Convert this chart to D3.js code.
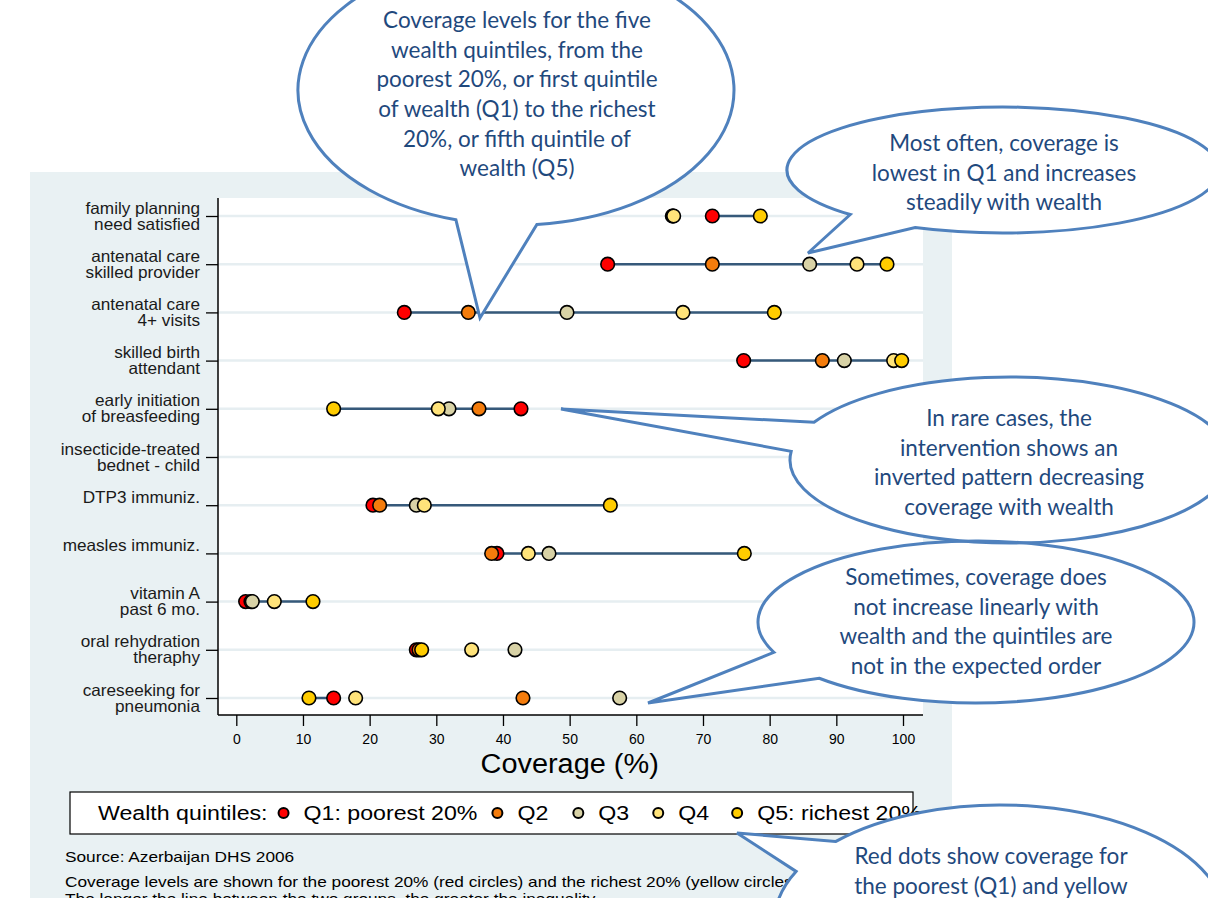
<!DOCTYPE html>
<html>
<head>
<meta charset="utf-8">
<script src="https://cdn.jsdelivr.net/npm/d3@7"></script>
<style>
  body { margin: 0; background: #fff; }
  svg { display: block; }
</style>
</head>
<body>
<svg id="chart"></svg>
<script>
// indicators, top to bottom (each label split on two lines)
const indicators = [
  ["family planning", "need satisfied"],
  ["antenatal care", "skilled provider"],
  ["antenatal care", "4+ visits"],
  ["skilled birth", "attendant"],
  ["early initiation", "of breasfeeding"],
  ["insecticide-treated", "bednet - child"],
  ["DTP3 immuniz."],
  ["measles immuniz."],
  ["vitamin A", "past 6 mo."],
  ["oral rehydration", "theraphy"],
  ["careseeking for", "pneumonia"]
];

// coverage (%) per wealth quintile, same order as indicators
const q1 = [71.4, 55.7, 25.2, 76.1, 42.7, null, 20.5, 39.1, 1.4, 27.0, 14.6];
const q2 = [65.4, 71.4, 34.8, 87.9, 36.4, null, 21.5, 38.3, 2.2, 27.4, 43.0];
const q3 = [65.5, 86.0, 49.6, 91.2, 31.9, null, 27.0, 46.9, 2.4, 41.8, 57.5];
const q4 = [65.6, 93.1, 67.0, 98.6, 30.3, null, 28.2, 43.8, 5.7, 35.3, 17.9];
const q5 = [78.6, 97.6, 80.7, 99.8, 14.6, null, 56.1, 76.2, 11.5, 27.8, 10.9];

const quintiles = ["Q1: poorest 20%", "Q2", "Q3", "Q4", "Q5: richest 20%"];
const colors = ["#ff0000", "#f47c0c", "#d8d2a6", "#ffe37a", "#ffcc00"];
const xTicks = [0, 10, 20, 30, 40, 50, 60, 70, 80, 90, 100];

const notes = [
  "Source: Azerbaijan DHS 2006",
  "Coverage levels are shown for the poorest 20% (red circles) and the richest 20% (yellow circles)",
  "The longer the line between the two groups, the greater the inequality."
];

const callouts = [
  {lines: ["Coverage levels for the five", "wealth quintiles, from the", "poorest 20%, or first quintile",
           "of wealth (Q1) to the richest", "20%, or fifth quintile of", "wealth (Q5)"],
   cx: 516, cy: 90, rx: 218, ry: 135, a1: 106, a2: 84.5, tip: [480, 318], tx: 517, ty: 20},
  {lines: ["Most often, coverage is", "lowest in Q1 and increases", "steadily with wealth"],
   cx: 1003, cy: 170, rx: 216, ry: 63, a1: 135, a2: 114, tip: [808, 253], tx: 1004, ty: 143},
  {lines: ["In rare cases, the", "intervention shows an", "inverted pattern decreasing", "coverage with wealth"],
   cx: 1010, cy: 460, rx: 220, ry: 83, a1: 207, a2: 186, tip: [561, 409], tx: 1009, ty: 418},
  {lines: ["Sometimes, coverage does", "not increase linearly with", "wealth and the quintiles are", "not in the expected order"],
   cx: 976, cy: 622, rx: 218, ry: 81, a1: 158, a2: 136, tip: [648, 703], tx: 976, ty: 577},
  {lines: ["Red dots show coverage for", "the poorest (Q1) and yellow"],
   cx: 1000, cy: 920, rx: 225, ry: 115, a1: 223, a2: 205, tip: [737, 833], tx: 991, ty: 856}
];

const width = 1208;
const height = 898;
const plot = {left: 218, right: 923, top: 198, bottom: 715};
const font = "'Liberation Sans', Arial, Helvetica, sans-serif";

// the original graph was a little widened, so texts get stretched sideways
function stretch(sel, k) {
  sel.each(function () {
    const w = this.getComputedTextLength();
    d3.select(this).attr("textLength", w * k).attr("lengthAdjust", "spacingAndGlyphs");
  });
}

const svg = d3.select("#chart")
  .attr("width", width)
  .attr("height", height);

// light panel and white plot region
svg.append("rect")
  .attr("x", 30).attr("y", 172)
  .attr("width", 922).attr("height", 740)
  .attr("fill", "#e9f1f3");

svg.append("rect")
  .attr("x", plot.left).attr("y", plot.top)
  .attr("width", plot.right - plot.left).attr("height", plot.bottom - plot.top)
  .attr("fill", "#fff");

const xScale = d3.scaleLinear()
  .domain([0, 100])
  .range([236.3, 903]);

const yScale = d3.scalePoint()
  .domain(d3.range(indicators.length))
  .range([216, 698]);

// gridlines
svg.append("g")
  .selectAll("line")
  .data(indicators)
  .join("line")
  .attr("x1", plot.left).attr("x2", plot.right)
  .attr("y1", (d, i) => yScale(i)).attr("y2", (d, i) => yScale(i))
  .attr("stroke", "#e6eef1")
  .attr("stroke-width", 2.5);

// x axis
const xAxis = d3.axisBottom(xScale)
  .tickValues(xTicks)
  .tickSize(11)
  .tickPadding(8);

svg.append("g")
  .attr("transform", `translate(0,${plot.bottom})`)
  .call(xAxis)
  .call(g => g.select(".domain").remove())
  .call(g => g.selectAll("line").attr("stroke", "#000").attr("stroke-width", 1.3))
  .call(g => g.selectAll("text")
    .attr("fill", "#000")
    .style("font-family", font)
    .style("font-size", "14px"));

svg.append("line")
  .attr("x1", plot.left).attr("x2", plot.right)
  .attr("y1", plot.bottom).attr("y2", plot.bottom)
  .attr("stroke", "#000").attr("stroke-width", 1.5);

svg.append("text")
  .attr("x", (xScale(0) + xScale(100)) / 2)
  .attr("y", 773)
  .attr("text-anchor", "middle")
  .style("font-family", font)
  .style("font-size", "27px")
  .text("Coverage (%)")
  .call(stretch, 1.07);

// y axis
const yAxis = d3.axisLeft(yScale)
  .tickSize(12)
  .tickFormat("");

svg.append("g")
  .attr("transform", `translate(${plot.left},0)`)
  .call(yAxis)
  .call(g => g.select(".domain").remove())
  .call(g => g.selectAll("line").attr("stroke", "#000").attr("stroke-width", 1.3));

svg.append("line")
  .attr("x1", plot.left).attr("x2", plot.left)
  .attr("y1", plot.top).attr("y2", plot.bottom)
  .attr("stroke", "#000").attr("stroke-width", 1.5);

const labelLines = indicators.flatMap((d, i) => d.map((line, j) => ({line, j, i})));
svg.append("g")
  .selectAll("text")
  .data(labelLines)
  .join("text")
  .attr("x", 200)
  .attr("y", d => yScale(d.i) - 8 + d.j * 16 + 5.5)
  .attr("text-anchor", "end")
  .attr("fill", "#1a1a1a")
  .style("font-family", font)
  .style("font-size", "16.5px")
  .text(d => d.line)
  .call(stretch, 1.04);

// Q1 - Q5 range lines
const rows = indicators.map((d, i) => ({i, vals: [q1[i], q2[i], q3[i], q4[i], q5[i]]}))
  .filter(r => r.vals[0] != null);

svg.append("g")
  .selectAll("line")
  .data(rows)
  .join("line")
  .attr("x1", r => xScale(r.vals[0]))
  .attr("x2", r => xScale(r.vals[4]))
  .attr("y1", r => yScale(r.i))
  .attr("y2", r => yScale(r.i))
  .attr("stroke", "#36597a")
  .attr("stroke-width", 2.5);

// circles, Q1 first so Q5 sits on top
[q1, q2, q3, q4, q5].forEach((series, k) => {
  svg.append("g")
    .selectAll("circle")
    .data(series.map((v, i) => ({v, i})).filter(d => d.v != null))
    .join("circle")
    .attr("cx", d => xScale(d.v))
    .attr("cy", d => yScale(d.i))
    .attr("r", 6.8)
    .attr("fill", colors[k])
    .attr("stroke", "#000")
    .attr("stroke-width", 1.6);
});

// legend
const lg = svg.append("g");
lg.append("rect")
  .attr("x", 70).attr("y", 792)
  .attr("width", 843).attr("height", 42)
  .attr("fill", "#fff")
  .attr("stroke", "#000")
  .attr("stroke-width", 1.2);

const legendGaps = [20, 30, 29, 28];
const legendY = 820;
const legendStretch = 1.13;

function legendText(x, label) {
  const t = lg.append("text")
    .attr("x", x).attr("y", legendY)
    .style("font-family", font).style("font-size", "20.5px")
    .text(label);
  const w = t.node().getComputedTextLength() * legendStretch;
  t.attr("textLength", w).attr("lengthAdjust", "spacingAndGlyphs");
  return w;
}

let lx = 98;
lx += legendText(lx, "Wealth quintiles:") + 16;
quintiles.forEach((q, k) => {
  lg.append("circle")
    .attr("cx", lx).attr("cy", legendY - 7)
    .attr("r", 5)
    .attr("fill", colors[k])
    .attr("stroke", "#000")
    .attr("stroke-width", 2);
  const w = legendText(lx + 20, q);
  lx += 20 + w + (legendGaps[k] || 0);
});

// source notes
svg.append("g")
  .selectAll("text")
  .data(notes)
  .join("text")
  .attr("x", 65)
  .attr("y", (d, i) => i === 0 ? 862 : 887 + (i - 1) * 17)
  .style("font-family", font)
  .style("font-size", "15px")
  .text(d => d)
  .call(stretch, 1.15);

// speech bubbles
const rad = a => a * Math.PI / 180;
function bubblePath(c) {
  const p1 = [c.cx + c.rx * Math.cos(rad(c.a1)), c.cy + c.ry * Math.sin(rad(c.a1))];
  const p2 = [c.cx + c.rx * Math.cos(rad(c.a2)), c.cy + c.ry * Math.sin(rad(c.a2))];
  return `M${p1[0]},${p1[1]} A${c.rx},${c.ry} 0 1 1 ${p2[0]},${p2[1]} L${c.tip[0]},${c.tip[1]} Z`;
}

const bg = svg.append("g");
bg.selectAll("path.fill")
  .data(callouts)
  .join("path")
  .attr("class", "fill")
  .attr("d", bubblePath)
  .attr("fill", "#fff");

bg.selectAll("path.edge")
  .data(callouts)
  .join("path")
  .attr("class", "edge")
  .attr("d", bubblePath)
  .attr("fill", "none")
  .attr("stroke", "#4f81bd")
  .attr("stroke-width", 3)
  .attr("stroke-linejoin", "miter");

bg.selectAll("text")
  .data(callouts)
  .join("text")
  .attr("text-anchor", "middle")
  .attr("fill", "#1f497d")
  .style("font-family", "Lato, 'Open Sans', sans-serif")
  .style("font-size", "22.5px")
  .selectAll("tspan")
  .data(c => c.lines.map((line, j) => ({line, j, c})))
  .join("tspan")
  .attr("x", d => d.c.tx)
  .attr("y", d => d.c.ty + d.j * 29.6)
  .attr("dy", "0.36em")
  .text(d => d.line);
</script>
</body>
</html>
